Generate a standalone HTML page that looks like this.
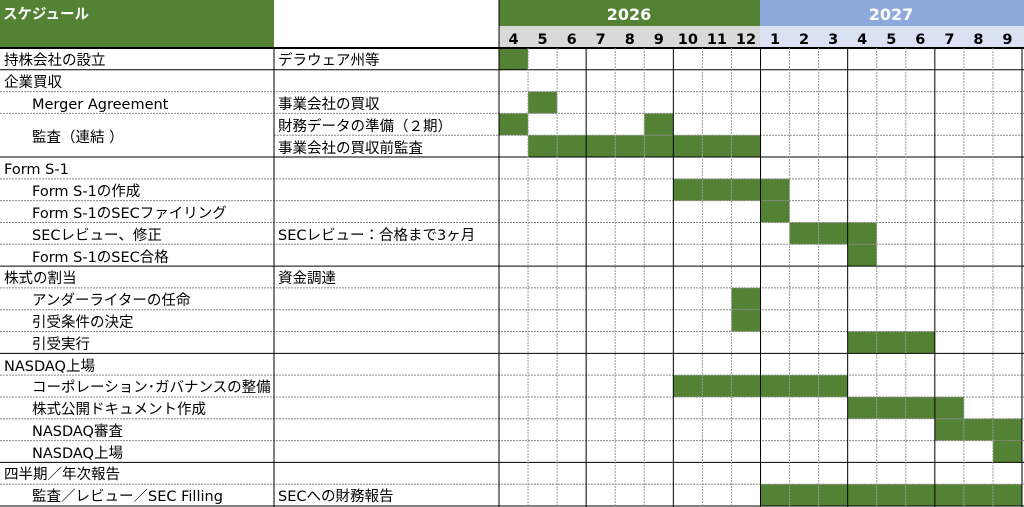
<!DOCTYPE html>
<html><head><meta charset="utf-8">
<style>
html,body{margin:0;padding:0;background:#fff;width:1024px;height:507px;overflow:hidden}
svg text{font-family:"DejaVu Sans","Noto Sans CJK JP",sans-serif;font-size:14.5px;fill:#000}
</style></head><body>
<svg id="s" width="1024" height="507" xmlns="http://www.w3.org/2000/svg">
<g id="bg"></g>
<rect x="0" y="0" width="274" height="47" fill="#548235"/>
<text x="3" y="19" style="fill:#fff;font-weight:bold">スケジュール</text>
<rect x="499" y="0" width="261" height="26" fill="#548235"/>
<rect x="760" y="0" width="264" height="26" fill="#8ea9db"/>
<rect x="499" y="26" width="261" height="21" fill="#d9d9d9"/>
<rect x="760" y="26" width="264" height="21" fill="#d9e1f2"/>
<text x="629" y="20" text-anchor="middle" style="fill:#fff;font-weight:bold;font-size:16px">2026</text>
<text x="891" y="20" text-anchor="middle" style="fill:#fff;font-weight:bold;font-size:16px">2027</text>
<g id="months" style="font-weight:bold;font-size:16px"></g>
<g id="bars"></g>
<g id="grid"></g>
<g>
<text x="4" y="65">持株会社の設立</text><text x="278" y="65">デラウェア州等</text>
<text x="4" y="87">企業買収</text>
<text x="32" y="109">Merger Agreement</text><text x="278" y="109">事業会社の買収</text>
<text x="32" y="142">監査（連結 ）</text><text x="278" y="131">財務データの準備（２期）</text>
<text x="278" y="153">事業会社の買収前監査</text>
<text x="4" y="174">Form S-1</text>
<text x="32" y="196">Form S-1の作成</text>
<text x="32" y="218">Form S-1のSECファイリング</text>
<text x="32" y="240">SECレビュー、修正</text><text x="278" y="240">SECレビュー：合格まで3ヶ月</text>
<text x="32" y="262">Form S-1のSEC合格</text>
<text x="4" y="283">株式の割当</text><text x="278" y="283">資金調達</text>
<text x="32" y="305">アンダーライターの任命</text>
<text x="32" y="327">引受条件の決定</text>
<text x="32" y="349">引受実行</text>
<text x="4" y="371">NASDAQ上場</text>
<text x="32" y="392">コーポレーション･ガバナンスの整備</text>
<text x="32" y="414">株式公開ドキュメント作成</text>
<text x="32" y="436">NASDAQ審査</text>
<text x="32" y="458">NASDAQ上場</text>
<text x="4" y="479">四半期／年次報告</text>
<text x="32" y="501">監査／レビュー／SEC Filling</text><text x="278" y="501">SECへの財務報告</text>
</g>
</svg>
<script>
const NS="http://www.w3.org/2000/svg";
function el(p,t,a){const e=document.createElementNS(NS,t);for(const k in a)e.setAttribute(k,a[k]);document.getElementById(p).appendChild(e);return e;}
const x0=499,w=(1022-499)/18,y0=48,h=(506-48)/21;
const ms=[4,5,6,7,8,9,10,11,12,1,2,3,4,5,6,7,8,9];
ms.forEach((m,i)=>{const t=el("months","text",{x:x0+w*i+w/2,y:44,"text-anchor":"middle"});t.textContent=m;});
const bars={1:[0],3:[1],4:[0,5],5:[1,2,3,4,5,6,7,8],7:[6,7,8,9],8:[9],9:[10,11,12],10:[12],12:[8],13:[8],14:[12,13,14],16:[6,7,8,9,10,11],17:[12,13,14,15],18:[15,16,17],19:[17],21:[9,10,11,12,13,14,15,16,17]};
for(const r in bars)bars[r].forEach(c=>el("bars","rect",{x:x0+w*c,y:y0+h*(r-1),width:w,height:h,fill:"#548235"}));
const solidRows=[0,1,5,10,14,19,21];
for(let r=0;r<=21;r++){const y=y0+h*r;
 if(solidRows.includes(r))el("grid","line",{x1:0,x2:1024,y1:y,y2:y,stroke:"#000","stroke-width":r==0?2:1});
 else if(r==4)el("grid","line",{x1:274,x2:1024,y1:y,y2:y,stroke:"#888","stroke-dasharray":"2,1"});
 else el("grid","line",{x1:0,x2:1024,y1:y,y2:y,stroke:"#888","stroke-dasharray":"2,1"});}
el("grid","line",{x1:274,x2:274,y1:48,y2:507,stroke:"#000"});
for(let c=0;c<=18;c++){const x=x0+w*c;const solid=(c%3==0);
 el("grid","line",{x1:x,x2:x,y1:c==0?0:48,y2:507,stroke:solid?"#000":"#999","stroke-dasharray":solid?"":"2,1"});}
</script>
</body></html>
